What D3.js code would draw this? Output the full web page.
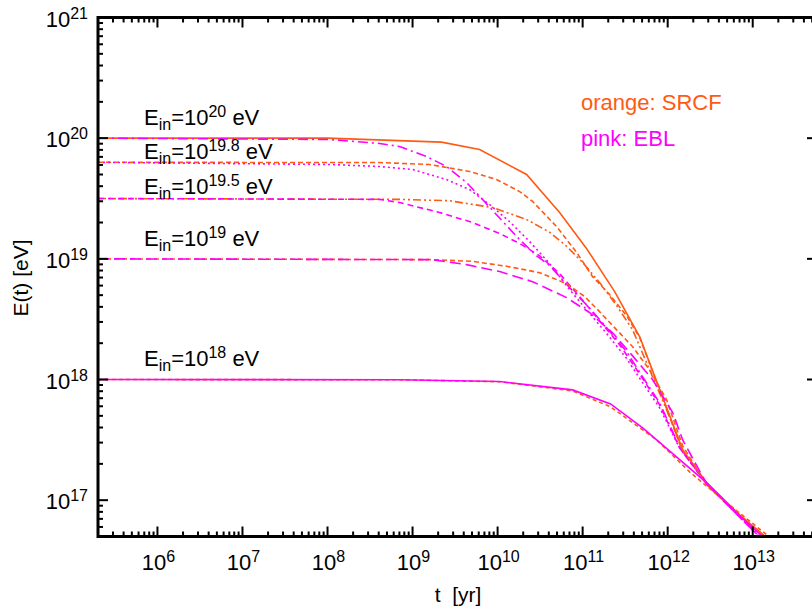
<!DOCTYPE html>
<html>
<head>
<meta charset="utf-8">
<script src="https://cdn.jsdelivr.net/npm/d3@7"></script>
<style>
  body { margin: 0; background: #fff; }
  svg { display: block; }
  text { font-family: "Liberation Sans", Arial, Helvetica, sans-serif; fill: #000; }
</style>
</head>
<body>
<script>
// initial energies (exponent of 10, eV)
const energies = ["20", "19.8", "19.5", "19", "18"];

// E(t), [t in yr, E in eV]
const srcf20 = [[2e5, 1e20], [1e8, 1e20], [2.19e9, 9.27e19], [6.14e9, 8.05e19], [2.19e10, 5.0e19],
  [5.36e10, 2.42e19], [1.11e11, 1.22e19], [2.38e11, 5.35e18], [4.69e11, 2.26e18], [1.5e12, 2.61e17],
  [2.88e12, 1.39e17], [7.03e12, 7.55e16], [1.38e13, 5.06e16], [2.08e13, 3.86e16]];
const ebl20 = [[2e5, 1e20], [1.06e8, 9.75e19], [4.09e8, 9.04e19], [7.03e8, 8.53e19], [1.46e9, 7.05e19],
  [2.51e9, 5.82e19], [4.32e9, 4.29e19], [6.66e9, 3.1e19], [1.15e10, 2.04e19], [1.82e10, 1.44e19],
  [2.88e10, 1.06e19], [4.09e10, 8.79e18], [7.03e10, 5.77e18], [1.11e11, 4.17e18], [1.92e11, 2.69e18],
  [3.29e11, 1.7e18], [5.08e11, 1.05e18], [8.05e11, 6.4e17], [1.38e12, 2.76e17], [2.88e12, 1.39e17],
  [6.48e12, 7.82e16], [1.21e13, 5.04e16], [1.82e13, 3.86e16]];
const srcf198 = [[2e5, 6.31e19], [4.09e8, 6.28e19], [1.58e9, 6.05e19], [4.69e9, 5.3e19], [9.72e9, 4.54e19],
  [1.82e10, 3.61e19], [2.58e10, 2.99e19], [4.94e10, 1.85e19], [8.5e10, 1.13e19], [1.31e11, 7.12e18],
  [2.08e11, 5.05e18], [3.29e11, 3.38e18], [4.69e11, 2.22e18], [8.05e11, 8.22e17], [1.5e12, 2.51e17],
  [2.88e12, 1.36e17], [7.03e12, 7.4e16], [1.38e13, 4.95e16], [2.08e13, 3.79e16]];
const ebl198 = [[2e5, 6.31e19], [1.06e8, 6.05e19], [4.09e8, 5.82e19], [1.0e9, 5.5e19], [2.51e9, 4.54e19],
  [4.69e9, 3.75e19], [8.05e9, 2.82e19], [1.38e10, 2.04e19], [2.38e10, 1.39e19], [4.09e10, 9.14e18],
  [7.03e10, 5.56e18], [1.11e11, 3.79e18], [1.92e11, 2.4e18], [3.29e11, 1.49e18], [5.08e11, 9.4e17],
  [8.05e11, 5.82e17], [1.38e12, 2.71e17], [2.88e12, 1.36e17], [6.48e12, 7.67e16], [1.21e13, 4.95e16],
  [1.82e13, 3.79e16]];
const srcf195 = [[2e5, 3.16e19], [7.03e8, 3.11e19], [2.72e9, 3.03e19], [8.73e9, 2.66e19], [2.19e10, 2.12e19],
  [4.09e10, 1.66e19], [6.48e10, 1.27e19], [1.0e11, 9.33e18], [1.58e11, 6.37e18], [2.51e11, 4.1e18],
  [3.87e11, 2.58e18], [6.14e11, 1.2e18], [9.72e11, 5.6e17], [1.5e12, 2.61e17], [2.88e12, 1.36e17],
  [7.03e12, 7.4e16], [1.38e13, 4.95e16], [2.08e13, 3.79e16]];
const ebl195 = [[2e5, 3.16e19], [4.09e8, 3.11e19], [7.03e8, 2.93e19], [2.08e9, 2.42e19], [5.08e9, 2.0e19],
  [1.06e10, 1.62e19], [1.82e10, 1.34e19], [3.12e10, 1.06e19], [5.36e10, 7.54e18], [9.22e10, 4.86e18],
  [1.58e11, 3.07e18], [2.72e11, 1.94e18], [4.69e11, 1.11e18], [8.05e11, 6.17e17], [1.38e12, 2.71e17],
  [2.88e12, 1.36e17], [6.48e12, 7.67e16], [1.21e13, 4.95e16], [1.82e13, 3.79e16]];
const srcf19 = [[2e5, 1e19], [1.72e9, 9.85e18], [5.08e9, 9.53e18], [1.28e10, 8.67e18], [3.12e10, 7.68e18],
  [6.48e10, 6.22e18], [1.06e11, 4.86e18], [1.58e11, 3.65e18], [2.51e11, 2.58e18], [3.87e11, 1.87e18],
  [6.14e11, 1.2e18], [9.72e11, 6.79e17], [1.5e12, 2.82e17], [2.88e12, 1.34e17], [7.03e12, 7.4e16],
  [1.38e13, 4.95e16], [2.08e13, 3.79e16]];
const ebl19 = [[2e5, 1e19], [1.72e9, 9.85e18], [4.32e9, 8.95e18], [1.06e10, 7.84e18], [2.58e10, 6.47e18],
  [6.48e10, 4.77e18], [1.21e11, 3.58e18], [2.25e11, 2.44e18], [3.87e11, 1.57e18], [6.66e11, 9.96e17],
  [1.15e12, 5.3e17], [1.5e12, 3.16e17], [2.88e12, 1.36e17], [6.48e12, 7.67e16], [1.21e13, 4.95e16],
  [1.82e13, 3.79e16]];
const srcf18 = [[2e5, 1e18], [7.03e8, 9.95e17], [1.06e10, 9.58e17], [7.62e10, 8.05e17], [2.13e11, 5.93e17],
  [7.43e11, 3.16e17], [1.82e12, 1.71e17], [4.09e12, 1.06e17], [9.22e12, 6.71e16], [1.58e13, 4.94e16],
  [2.38e13, 3.86e16]];
const ebl18 = [[2e5, 1e18], [7.03e8, 9.95e17], [1.06e10, 9.62e17], [7.62e10, 8.2e17], [2.13e11, 6.28e17],
  [5.08e11, 3.97e17], [2.88e12, 1.39e17], [6.48e12, 7.84e16], [1.28e13, 5.05e16], [1.91e13, 3.86e16]];

const orange = "#ff5a14", pink = "#ff00ff";

const curves = [
  {data: srcf20, color: orange, dash: null},
  {data: ebl20, color: pink, dash: "10,4,2,4"},
  {data: srcf198, color: orange, dash: "5,3"},
  {data: ebl198, color: pink, dash: "2,3"},
  {data: srcf195, color: orange, dash: "8,3,2,3,2,3"},
  {data: ebl195, color: pink, dash: "6,4"},
  {data: srcf19, color: orange, dash: "5,3"},
  {data: ebl19, color: pink, dash: "11,5"},
  {data: srcf18, color: orange, dash: "4,3"},
  {data: ebl18, color: pink, dash: null}
];

const width = 812, height = 612;
const plotL = 98, plotR = 817, plotT = 17.5, plotB = 536.5;

const x = d3.scaleLog().domain([2e5, 5.7e13]).range([plotL, plotR]);
const y = d3.scaleLog().domain([5e16, 1e21]).range([plotB, plotT]);

const svg = d3.select("body").append("svg")
    .attr("width", width)
    .attr("height", height);

svg.append("clipPath").attr("id", "plot")
  .append("rect")
    .attr("x", plotL).attr("y", plotT)
    .attr("width", plotR - plotL).attr("height", plotB - plotT);

const line = d3.line()
    .x(d => x(d[0]))
    .y(d => y(d[1]));

svg.append("g")
    .attr("clip-path", "url(#plot)")
    .attr("fill", "none")
  .selectAll("path")
  .data(curves)
  .join("path")
    .attr("stroke", d => d.color)
    .attr("stroke-width", 1.6)
    .attr("stroke-dasharray", d => d.dash)
    .attr("d", d => line(d.data));

const isMajor = v => Math.abs(Math.log10(v) - Math.round(Math.log10(v))) < 1e-6;
const xt = x.ticks().filter(v => v >= x.domain()[0] && v <= x.domain()[1]);
const yt = y.ticks();

// ticks, all pointing inward
const ticks = svg.append("g").attr("stroke", "#000").attr("stroke-width", 2);
ticks.selectAll(".xb").data(xt).join("line")
    .attr("x1", d => x(d)).attr("x2", d => x(d))
    .attr("y1", plotB).attr("y2", d => plotB - (isMajor(d) ? 10 : 5));
ticks.selectAll(".xt").data(xt).join("line")
    .attr("x1", d => x(d)).attr("x2", d => x(d))
    .attr("y1", plotT).attr("y2", d => plotT + (isMajor(d) ? 10 : 5));
ticks.selectAll(".yl").data(yt).join("line")
    .attr("y1", d => y(d)).attr("y2", d => y(d))
    .attr("x1", plotL).attr("x2", d => plotL + (isMajor(d) ? 10 : 5));
ticks.selectAll(".yr").data(yt).join("line")
    .attr("y1", d => y(d)).attr("y2", d => y(d))
    .attr("x1", plotR).attr("x2", d => plotR - (isMajor(d) ? 10 : 5));

// frame
svg.append("path")
    .attr("fill", "none")
    .attr("stroke", "#000")
    .attr("stroke-width", 3)
    .attr("d", `M${plotL},${plotT}H${plotR}V${plotB}H${plotL}Z`);

function power(sel, exp) {
  sel.append("tspan").text("10");
  sel.append("tspan").attr("font-size", 16).attr("dy", -8).text(exp);
}

svg.append("g")
    .attr("font-size", 22)
    .attr("text-anchor", "middle")
  .selectAll("text")
  .data(xt.filter(isMajor))
  .join("text")
    .attr("x", d => x(d) + 1)
    .attr("y", 570)
    .each(function(d) { power(d3.select(this), Math.round(Math.log10(d))); });

svg.append("g")
    .attr("font-size", 22)
    .attr("text-anchor", "end")
  .selectAll("text")
  .data(yt.filter(isMajor))
  .join("text")
    .attr("x", 88)
    .attr("y", d => y(d) + 9)
    .each(function(d) { power(d3.select(this), Math.round(Math.log10(d))); });

// E_in labels
const labelBase = [125, 159, 194, 246, 366];
const lab = svg.append("g").attr("font-size", 22)
  .selectAll("text")
  .data(energies)
  .join("text")
    .attr("x", 144)
    .attr("y", (d, i) => labelBase[i]);
lab.append("tspan").text("E");
lab.append("tspan").attr("font-size", 16).attr("dy", 5).text("in");
lab.append("tspan").attr("dy", -5).text("=10");
lab.append("tspan").attr("font-size", 16).attr("dy", -8).text(d => d);
lab.append("tspan").attr("dy", 8).text(" eV");

// legend
svg.append("text")
    .attr("x", 581).attr("y", 110)
    .attr("font-size", 22)
    .style("fill", orange)
    .text("orange: SRCF");
svg.append("text")
    .attr("x", 581).attr("y", 146)
    .attr("font-size", 22)
    .style("fill", pink)
    .text("pink: EBL");

// axis titles
svg.append("text")
    .attr("x", 458).attr("y", 602)
    .attr("font-size", 21)
    .attr("text-anchor", "middle")
    .style("white-space", "pre")
    .text("t  [yr]");
svg.append("text")
    .attr("transform", "translate(28,278) rotate(-90)")
    .attr("font-size", 21)
    .attr("text-anchor", "middle")
    .text("E(t) [eV]");
</script>
</body>
</html>
